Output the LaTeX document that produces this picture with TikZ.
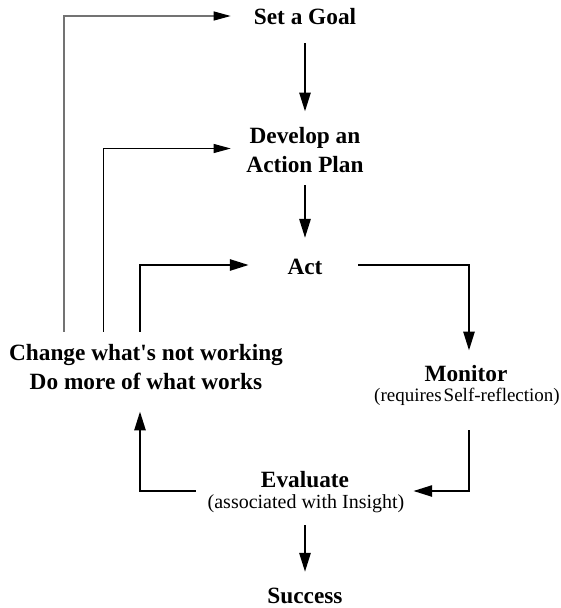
\documentclass[tikz,border=0pt]{standalone}
\usepackage{fontspec}
\newfontfamily\plainser{Liberation Serif}
\usetikzlibrary{arrows.meta}
\tikzset{
  lbl/.style={font=\plainser\fontsize{23.3}{29}\selectfont\bfseries, inner sep=0pt, align=center},
  note/.style={font=\plainser\fontsize{20}{20}\selectfont, inner sep=0pt},
  thickarrow/.style={line width=2.6pt, -{Triangle[length=19pt,width=11pt]}},
  thinarrow/.style={line width=1pt, -{Triangle[length=17pt,width=9pt]}},
  grayarrow/.style={line width=1.2pt, draw=black!55, -{Triangle[length=17pt,width=9pt,fill=black,color=black]}}
}
\begin{document}
\begin{tikzpicture}[x=1pt,y=-1pt]
\useasboundingbox (0,0) rectangle (561,608);
\node[lbl] (goal) at (305,17) {Set a Goal};
\node[lbl] (plan) at (305,150.5) {Develop an\\Action Plan};
\node[lbl] (act) at (305,267) {Act};
\node[lbl] (change) at (146,367.5) {Change what's not working\\Do more of what works};
\node[lbl] (monitor) at (466,374) {Monitor};
\node[note, font=\plainser\fontsize{19}{19}\selectfont, anchor=base] (mnote) at (467,401) {(requires\hspace{2pt}Self-reflection)};
\node[lbl] (eval) at (305,480) {Evaluate};
\node[note, anchor=base] (enote) at (306,508) {(associated with Insight)};
\node[lbl] (success) at (305,596) {Success};

\draw[thickarrow] ([yshift=-18pt]goal.south) -- ([yshift=16pt]plan.north);
\draw[thickarrow] ([yshift=-12pt]plan.south) -- ([yshift=21pt]act.north);
\draw[thickarrow] ([xshift=35.5pt,yshift=2pt]act.east) -| ([xshift=3pt,yshift=15pt]monitor.north);
\draw[thickarrow] ([xshift=2pt,yshift=-25pt]mnote.south) |- ([xshift=64pt,yshift=-11pt]eval.east);
\draw[thickarrow] ([xshift=-65pt,yshift=-11pt]eval.west) -| ([xshift=-6pt,yshift=-21pt]change.south);
\draw[thickarrow] ([xshift=-6pt,yshift=13pt]change.north) |- ([xshift=-38.5pt,yshift=2pt]act.west);
\draw[thickarrow] ([xshift=-1pt,yshift=-12.5pt]enote.south) -- ([yshift=16pt]success.north);
\draw[thinarrow] ([xshift=-43pt,yshift=13pt]change.north) |- ([xshift=-15.5pt,yshift=2pt]plan.west);
\draw[grayarrow] ([xshift=-82pt,yshift=13pt]change.north) |- ([xshift=-23pt,yshift=1pt]goal.west);
\end{tikzpicture}
\end{document}
